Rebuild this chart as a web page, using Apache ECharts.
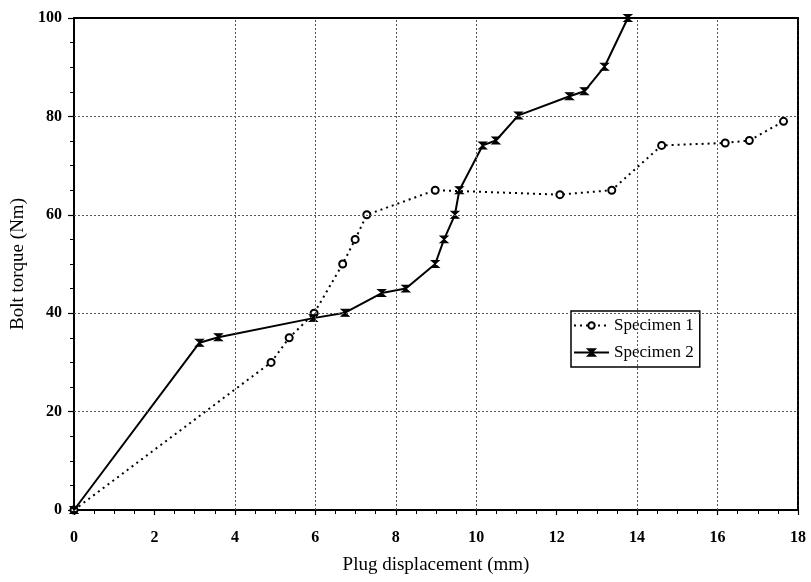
<!DOCTYPE html>
<html><head><meta charset="utf-8">
<script src="https://cdn.jsdelivr.net/npm/echarts@6/dist/echarts.min.js"></script>
<style>html,body{margin:0;padding:0;background:#fff}#c{width:811px;height:582px}</style>
</head><body><div id="c"></div>
<script>
// ---- data ----
const seriesNames = ['Specimen 1', 'Specimen 2'];
const spec1X = [0, 4.9, 5.35, 5.97, 6.68, 6.99, 7.28, 8.98, 12.08, 13.37, 14.61, 16.19, 16.79, 17.64];
const spec1Y = [0, 30, 35, 40, 50, 55, 60, 65, 64.1, 65, 74.1, 74.6, 75.1, 79];
const spec2X = [0, 3.12, 3.59, 5.95, 6.74, 7.65, 8.25, 8.98, 9.2, 9.47, 9.58, 10.16, 10.49, 11.05, 12.32, 12.69, 13.19, 13.77];
const spec2Y = [0, 34, 35.1, 39, 40.1, 44.1, 45, 50, 55, 60, 65, 74.1, 75.1, 80.2, 84.1, 85.1, 90.1, 100];
const xGridValues = [4, 6, 8, 10, 14, 16];
const yGridValues = [20, 40, 60, 80];
const xAxisName = 'Plug displacement (mm)';
const yAxisName = 'Bolt torque (Nm)';

const font = '"Liberation Serif", "Times New Roman", serif';
const pairs = (xs, ys) => xs.map((x, i) => [x, ys[i]]);

const chart = echarts.init(document.getElementById('c'), null, {renderer: 'canvas'});
const gridLine = {type: [2, 2], color: '#555', width: 1};

chart.setOption({
  animation: false,
  backgroundColor: '#fff',
  grid: {left: 74, right: 13, top: 18, bottom: 72, containLabel: false},
  legend: {
    orient: 'vertical', left: 571, top: 311,
    itemWidth: 35, itemHeight: 8, itemGap: 10,
    padding: [6, 6, 6, 2],
    borderColor: '#000', borderWidth: 1.5, backgroundColor: '#fff',
    textStyle: {fontFamily: font, fontSize: 17, color: '#000'},
    data: seriesNames
  },
  xAxis: [{
    type: 'value', min: 0, max: 18, interval: 2,
    name: xAxisName, nameLocation: 'middle', nameGap: 46,
    nameTextStyle: {fontFamily: font, fontSize: 19, color: '#000'},
    axisLine: {lineStyle: {color: '#000', width: 2}},
    axisTick: {show: true, length: 5, lineStyle: {color: '#000', width: 1.2}},
    minorTick: {show: true, splitNumber: 4, length: 4, lineStyle: {color: '#000', width: 1}},
    axisLabel: {margin: 20, fontFamily: font, fontSize: 16, fontWeight: 'bold', color: '#000'},
    splitLine: {show: false}
  }, {
    type: 'value', min: 0, max: 18, interval: 2, position: 'top',
    axisLine: {show: true, onZero: false, lineStyle: {color: '#000', width: 2}},
    axisTick: {show: false}, axisLabel: {show: false}, splitLine: {show: false}
  }],
  yAxis: [{
    type: 'value', min: 0, max: 100, interval: 20,
    name: yAxisName, nameLocation: 'middle', nameGap: 43, nameRotate: 90,
    nameTextStyle: {fontFamily: font, fontSize: 19, color: '#000'},
    axisLine: {show: true, lineStyle: {color: '#000', width: 2}},
    axisTick: {show: true, length: 6, lineStyle: {color: '#000', width: 1.2}},
    minorTick: {show: true, splitNumber: 4, length: 4, lineStyle: {color: '#000', width: 1}},
    axisLabel: {margin: 12, fontFamily: font, fontSize: 16, fontWeight: 'bold', color: '#000'},
    splitLine: {show: false}
  }, {
    type: 'value', min: 0, max: 100, interval: 20, position: 'right',
    axisLine: {show: true, onZero: false, lineStyle: {color: '#000', width: 2, type: [4, 1]}},
    axisTick: {show: false}, axisLabel: {show: false}, splitLine: {show: false}
  }],
  series: [{
    name: seriesNames[0], type: 'line', data: pairs(spec1X, spec1Y),
    symbol: 'emptyCircle', symbolSize: 7, showAllSymbol: true,
    lineStyle: {color: '#000', width: 2, type: [2, 4]},
    itemStyle: {color: '#000', borderColor: '#000', borderWidth: 1.3},
    z: 3,
    markLine: {
      silent: true, symbol: 'none', label: {show: false}, animation: false,
      lineStyle: gridLine, emphasis: {disabled: true},
      data: xGridValues.map(v => ({xAxis: v})).concat(yGridValues.map(v => ({yAxis: v})))
    }
  }, {
    name: seriesNames[1], type: 'line', data: pairs(spec2X, spec2Y),
    symbol: 'path://M0,0 L10,0 L0,10 L10,10 Z', symbolSize: [8, 7], showAllSymbol: true,
    lineStyle: {color: '#000', width: 2},
    itemStyle: {color: '#000', borderColor: '#000', borderWidth: 1},
    z: 4
  }]
});
</script>
</body></html>
